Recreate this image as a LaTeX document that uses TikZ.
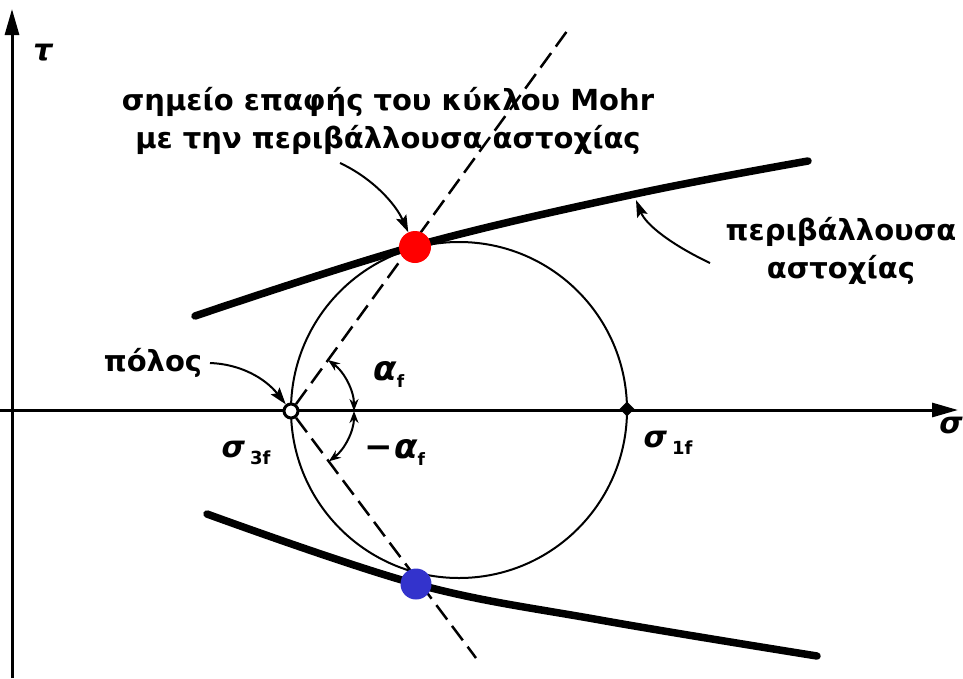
\documentclass[tikz,border=0pt]{standalone}
\usepackage{fontspec}
\setmainfont{DejaVu Sans}
\usetikzlibrary{arrows.meta,shapes.geometric}
\begin{document}
\begin{tikzpicture}[x=1pt,y=-1pt,
  axis/.style={line width=3pt,-{Triangle[length=26pt,width=14pt]}},
  envel/.style={line width=7.5pt,line cap=round},
  thinline/.style={line width=2pt},
  dashline/.style={line width=2.5pt,dash pattern=on 18pt off 8pt},
  lblarrow/.style={line width=2pt,-{Stealth[length=17pt,width=11pt,inset=3pt]}},
  anglearrow/.style={line width=2pt,{Stealth[length=12pt,width=9pt]}-{Stealth[length=12pt,width=9pt]}},
  lbl/.style={font=\fontsize{29}{38}\selectfont\bfseries, align=center, inner sep=0pt},
  sym/.style={font=\fontsize{30}{32}\selectfont\bfseries\itshape, inner sep=0pt},
]
\useasboundingbox (0,0) rectangle (963,678);

% Mohr circle
\draw[thinline] (459,410) circle[radius=168];

% axes
\coordinate (yb) at (12,678);
\coordinate (yt) at (12,9);
\coordinate (xl) at (0,410);
\coordinate (xr) at (958,410);
\draw[axis] (yb) -- (yt);
\draw[axis] (xl) -- (xr);

% points
\node[circle, draw, line width=3pt, fill=white, minimum size=14pt, inner sep=0pt] (pole) at (291,411) {};
\node[diamond, fill=black, minimum size=15pt, inner sep=0pt] (s1) at (627,409) {};

% dashed lines
\coordinate (dU) at (570,27);
\coordinate (dL) at (476,658);
\draw[dashline] (pole) -- (dU);
\draw[dashline] (pole) -- (dL);

% envelopes
\draw[envel] plot[smooth,tension=0.6] coordinates {(195,316) (415,246) (635,194) (808,161)};
\draw[envel] plot[smooth,tension=0.6] coordinates {(207,514) (416,584) (600,620) (817,656)};

% contact points
\node[circle, fill=red, minimum size=32pt, inner sep=0pt] (tU) at (415,247) {};
\node[circle, fill={rgb,255:red,51;green,51;blue,204}, minimum size=31pt, inner sep=0pt] (tL) at (416,584) {};

% angle arcs
\draw[anglearrow] ([shift={(-54:63)}]pole.center) arc[start angle=-54,end angle=0,radius=63];
\draw[anglearrow] ([shift={(0:63)}]pole.center) arc[start angle=0,end angle=53,radius=63];

% labels
\node[sym] (tau) at (43,53) {τ};
\node[sym] (sig) at (951,425) {σ};
\node[inner sep=0pt] (s3lbl) at (246,453) {\fontsize{30}{32}\selectfont\bfseries\itshape σ\,\raisebox{-7pt}{\fontsize{18}{20}\selectfont\bfseries\upshape 3f}};
\node[inner sep=0pt] (s1lbl) at (668,443) {\fontsize{30}{32}\selectfont\bfseries\itshape σ\,\raisebox{-7pt}{\fontsize{18}{20}\selectfont\bfseries\upshape 1f}};
\node[inner sep=0pt] (aU) at (389,374) {\fontsize{34}{36}\selectfont\bfseries\itshape α\raisebox{-7pt}{\fontsize{17}{20}\selectfont\bfseries\upshape f}};
\node[inner sep=0pt] (aL) at (395,452) {\fontsize{34}{36}\selectfont\bfseries −\kern1pt\itshape α\raisebox{-7pt}{\fontsize{17}{20}\selectfont\bfseries\upshape f}};

\node[lbl] (top) at (388,121) {σημείο επαφής του κύκλου Mohr\\με την περιβάλλουσα αστοχίας};
\node[lbl] (env) at (841,251) {περιβάλλουσα\\αστοχίας};
\node[lbl] (polo) at (153,363) {πόλος};

% label arrows
\coordinate (ta) at (340,163);
\draw[lblarrow] (ta) .. controls (372,178) and (395,203) .. (tU);
\coordinate (pa) at (210,363);
\draw[lblarrow] (pa) .. controls (240,364) and (265,378) .. (pole);
\coordinate (ra) at (710,263);
\coordinate (re) at (636,200);
\draw[lblarrow] (ra) .. controls (672,245) and (646,225) .. (re);
\end{tikzpicture}
\end{document}
